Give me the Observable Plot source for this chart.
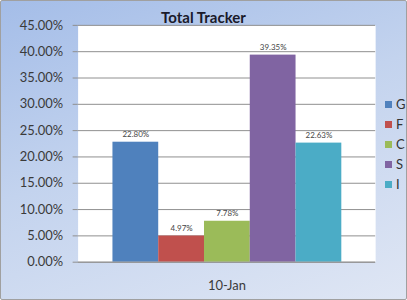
<!DOCTYPE html>
<html>
<head>
<meta charset="utf-8">
<script src="https://cdn.jsdelivr.net/npm/d3@7"></script>
<script src="https://cdn.jsdelivr.net/npm/@observablehq/plot@0.6"></script>
<style>
  html, body { margin: 0; padding: 0; }
  #chart {
    position: relative; width: 405px; height: 298px;
    border: 1px solid #a0a0a0; border-radius: 2px;
    background: linear-gradient(160deg, #a4bde8 0%, #c3d3ee 45%, #dfe6f4 100%);
    font-family: Lato, "Open Sans", sans-serif; overflow: hidden;
  }
  #title {
    position: absolute; left: 0; width: 405px; top: 7px; text-align: center;
    font-weight: bold; font-size: 15px; color: #1a1a2a;
  }
  #legend { position: absolute; left: 384px; top: 95px; font-size: 13px; color: #333; }
  #legend div { height: 20px; line-height: 16px; white-space: nowrap; }
  #legend span.sw { display: inline-block; width: 7px; height: 7px; margin-right: 4px; vertical-align: 1px; }
  svg { position: absolute; left: -1px; top: -1px; background: transparent; }
</style>
</head>
<body>
<div id="chart"><div id="title">Total Tracker</div><div id="legend"></div></div>
<script>
const series = ["G", "F", "C", "S", "I"];
const values = [0.2280, 0.0497, 0.0778, 0.3935, 0.2263];
const periods = ["10-Jan"];
const colors = ["#4F81BD", "#C0504D", "#9BBB59", "#8064A2", "#4BACC6"];
const yTicks = [0, 0.05, 0.10, 0.15, 0.20, 0.25, 0.30, 0.35, 0.40, 0.45];

const data = series.map((s, i) => ({period: periods[0], series: s, value: values[i]}));
const fmt = d3.format(".2%");

const plot = Plot.plot({
  width: 407, height: 300,
  marginLeft: 78, marginRight: 30, marginTop: 25, marginBottom: 37,
  style: {background: "transparent", fontFamily: "Lato, 'Open Sans', sans-serif", overflow: "visible"},
  fx: {domain: periods, padding: 0, label: null},
  x: {domain: series, axis: null, paddingInner: 0, paddingOuter: 0.75},
  y: {domain: [0, 0.45], ticks: yTicks, label: null},
  color: {domain: series, range: colors},
  marks: [
    Plot.frame({fill: "white", stroke: null}),
    Plot.gridY(yTicks, {stroke: "#8f8f8f", strokeOpacity: 1}),
    Plot.axisY(yTicks, {tickFormat: fmt, tickSize: 5, tickPadding: 10, fontSize: 13, color: "#3a3a3a", stroke: "#8f8f8f", label: null}),
    Plot.axisFx({anchor: "bottom", tickSize: 0, tickPadding: 19, fontSize: 13, color: "#3a3a3a", label: null}),
    Plot.barY(data, {fx: "period", x: "series", y: "value", fill: "series"}),
    Plot.ruleY([0], {stroke: "#8f8f8f"}),
    Plot.ruleX([0], {frameAnchor: "left", stroke: "#8f8f8f"}),
    Plot.text(data, {fx: "period", x: "series", y: "value", text: d => fmt(d.value), dy: -8, fontSize: 8, fill: "#444"})
  ]
});
document.getElementById("chart").appendChild(plot);

const legend = document.getElementById("legend");
series.forEach((s, i) => {
  const row = document.createElement("div");
  row.innerHTML = `<span class="sw" style="background:${colors[i]}"></span>${s}`;
  legend.appendChild(row);
});
</script>
</body>
</html>
